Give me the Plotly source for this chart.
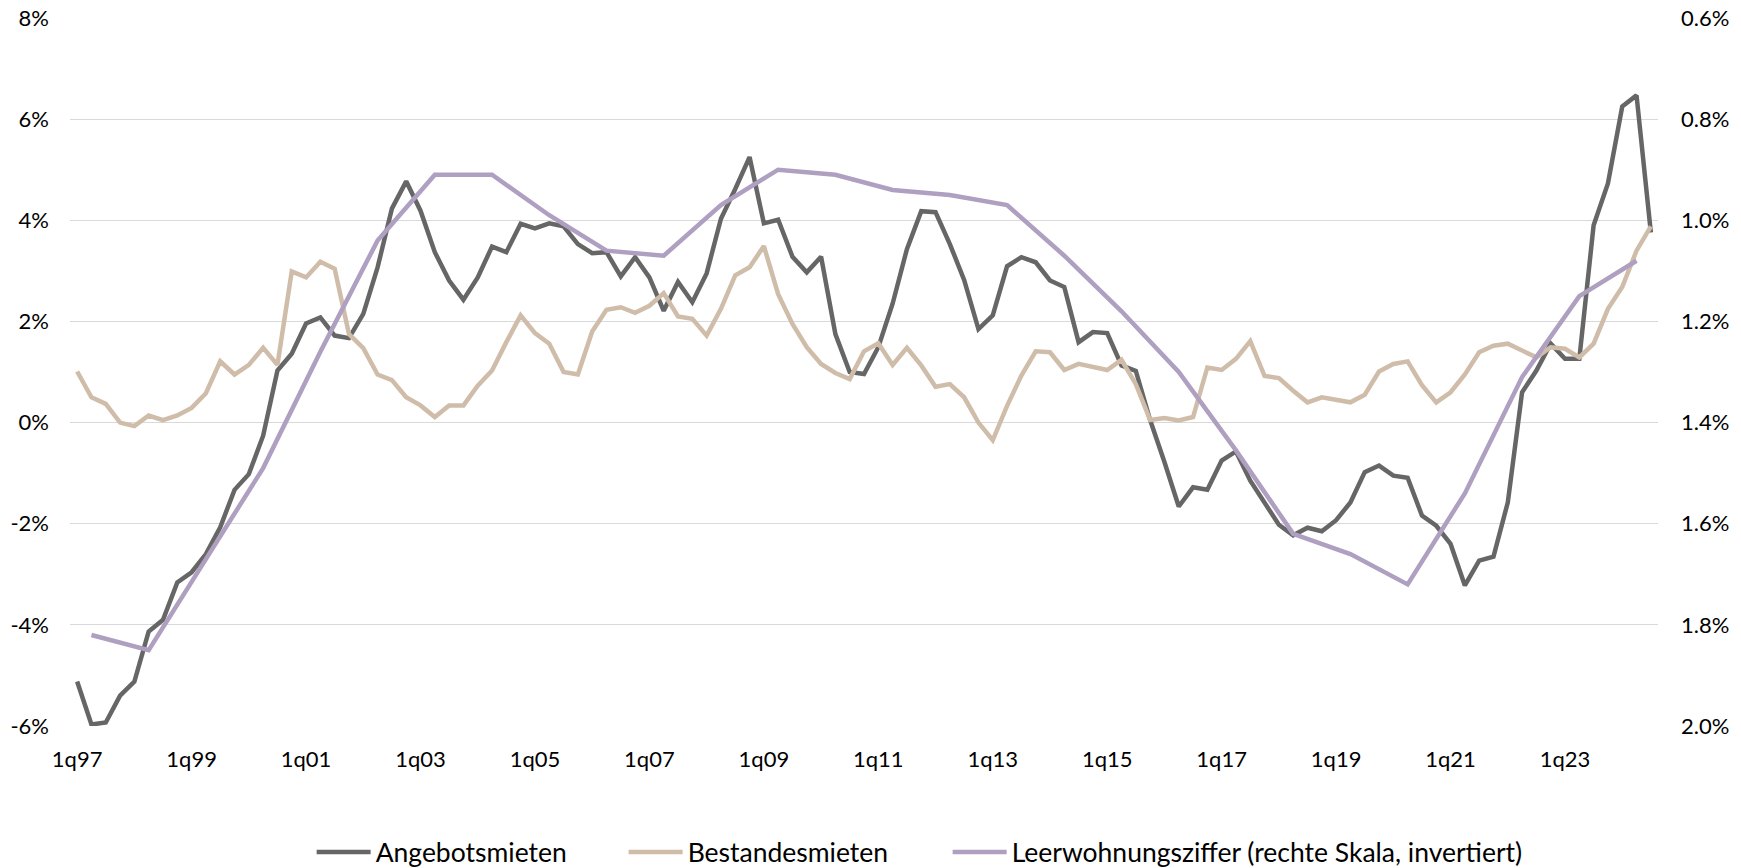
import plotly.graph_objects as go

# Quarterly categories 1q97 .. 3q24
quarters = [f"{q}q{y % 100:02d}" for y in range(1997, 2025) for q in range(1, 5)][:111]

# Angebotsmieten, y/y in %
angebot = [
    -5.12, -5.97, -5.93, -5.40, -5.12, -4.13, -3.90, -3.16, -2.96, -2.60,
    -2.07, -1.33, -1.02, -0.26, 1.03, 1.36, 1.96, 2.08, 1.72, 1.67,
    2.15, 3.07, 4.23, 4.77, 4.19, 3.37, 2.81, 2.43, 2.87, 3.48,
    3.37, 3.93, 3.84, 3.94, 3.88, 3.53, 3.35, 3.37, 2.89, 3.27,
    2.87, 2.21, 2.78, 2.38, 2.95, 4.03, 4.62, 5.25, 3.94, 4.01,
    3.28, 2.97, 3.28, 1.75, 1.00, 0.96, 1.49, 2.35, 3.43, 4.18,
    4.16, 3.53, 2.82, 1.85, 2.12, 3.09, 3.27, 3.17, 2.81, 2.68,
    1.59, 1.79, 1.77, 1.13, 1.02, 0.05, -0.78, -1.66, -1.28, -1.33,
    -0.75, -0.57, -1.15, -1.60, -2.02, -2.23, -2.08, -2.15, -1.93, -1.58,
    -0.98, -0.85, -1.05, -1.09, -1.84, -2.04, -2.40, -3.22, -2.73, -2.65,
    -1.58, 0.60, 1.03, 1.56, 1.26, 1.26, 3.90, 4.73, 6.25, 6.47,
    3.76,
]

# Bestandesmieten, y/y in %
bestand = [
    1.01, 0.50, 0.37, 0.00, -0.07, 0.14, 0.05, 0.14, 0.29, 0.58,
    1.21, 0.95, 1.14, 1.48, 1.14, 2.99, 2.87, 3.18, 3.04, 1.75,
    1.47, 0.95, 0.84, 0.50, 0.34, 0.11, 0.34, 0.34, 0.73, 1.03,
    1.59, 2.12, 1.77, 1.56, 1.00, 0.95, 1.80, 2.23, 2.28, 2.17,
    2.31, 2.56, 2.10, 2.05, 1.72, 2.25, 2.91, 3.07, 3.49, 2.54,
    1.95, 1.49, 1.16, 0.98, 0.86, 1.41, 1.57, 1.14, 1.48, 1.13,
    0.71, 0.76, 0.50, 0.00, -0.35, 0.33, 0.93, 1.41, 1.39, 1.04,
    1.16, 1.09, 1.04, 1.24, 0.76, 0.05, 0.09, 0.04, 0.11, 1.09,
    1.04, 1.26, 1.61, 0.92, 0.88, 0.63, 0.40, 0.50, 0.45, 0.40,
    0.55, 1.01, 1.16, 1.21, 0.74, 0.40, 0.60, 0.95, 1.39, 1.52,
    1.56, 1.42, 1.29, 1.49, 1.46, 1.29, 1.56, 2.25, 2.68, 3.40,
    3.88,
]

# Leerwohnungsziffer (annual, 2nd quarter), in %
leer_quarters = [f"2q{y % 100:02d}" for y in range(1997, 2025)]
leer = [
    1.82, 1.85, 1.67, 1.49, 1.26, 1.04, 0.91, 0.91, 0.99, 1.06,
    1.07, 0.97, 0.90, 0.91, 0.94, 0.95, 0.97, 1.07, 1.18, 1.30,
    1.455, 1.62, 1.66, 1.72, 1.54, 1.31, 1.15, 1.08,
]

x_ticks = quarters[::8]
left_ticks = [-6, -4, -2, 0, 2, 4, 6, 8]
right_ticks = [0.6, 0.8, 1.0, 1.2, 1.4, 1.6, 1.8, 2.0]

FONT = "Lato, 'Open Sans', sans-serif"

fig = go.Figure()
fig.add_trace(go.Scatter(
    x=quarters, y=angebot, name="Angebotsmieten", mode="lines",
    line=dict(color="#666666", width=4.5), legendwidth=243,
))
fig.add_trace(go.Scatter(
    x=quarters, y=bestand, name="Bestandesmieten", mode="lines",
    line=dict(color="#CFBDAA", width=4.5), legendwidth=255,
))
fig.add_trace(go.Scatter(
    x=leer_quarters, y=leer, name="Leerwohnungsziffer (rechte Skala, invertiert)",
    mode="lines", yaxis="y2",
    line=dict(color="#AF9FC0", width=4.5),
))

fig.update_layout(
    width=1741, height=868,
    margin=dict(l=70, r=83, t=18, b=142, autoexpand=False),
    paper_bgcolor="white", plot_bgcolor="white",
    font=dict(family=FONT, size=22, color="#000000"),
    showlegend=True,
    legend=dict(
        orientation="h", xref="container", yref="container",
        x=0.179, y=0.018, xanchor="left", yanchor="middle",
        font=dict(size=26.5, color="#000000"),
        itemwidth=54, bgcolor="rgba(0,0,0,0)",
    ),
    xaxis=dict(
        type="category", categoryorder="array", categoryarray=quarters,
        range=[-0.5, len(quarters) - 0.5],
        tickmode="array", tickvals=x_ticks, ticktext=x_ticks,
        showgrid=False, showline=False, zeroline=False, ticks="",
        ticklabelstandoff=18, automargin=False,
    ),
    yaxis=dict(
        range=[-6, 8], tickvals=left_ticks,
        ticktext=[f"{v}%" for v in left_ticks],
        showgrid=True, gridcolor="#D9D9D9", gridwidth=1.3,
        zeroline=False, showline=False, ticks="", ticklabelstandoff=20,
        automargin=False,
    ),
    yaxis2=dict(
        overlaying="y", side="right",
        range=[2.0, 0.6], tickvals=right_ticks,
        ticktext=[f"{v:.1f}%" for v in right_ticks],
        showgrid=False, zeroline=False, showline=False, ticks="",
        ticklabelstandoff=22, automargin=False,
    ),
)

# drop the default page margin so the 1741x868 figure fills the window exactly
fig.write_html(
    "out.html",
    config={"displayModeBar": False},
    post_script="document.body.style.margin='0';document.body.style.overflow='hidden';",
)
